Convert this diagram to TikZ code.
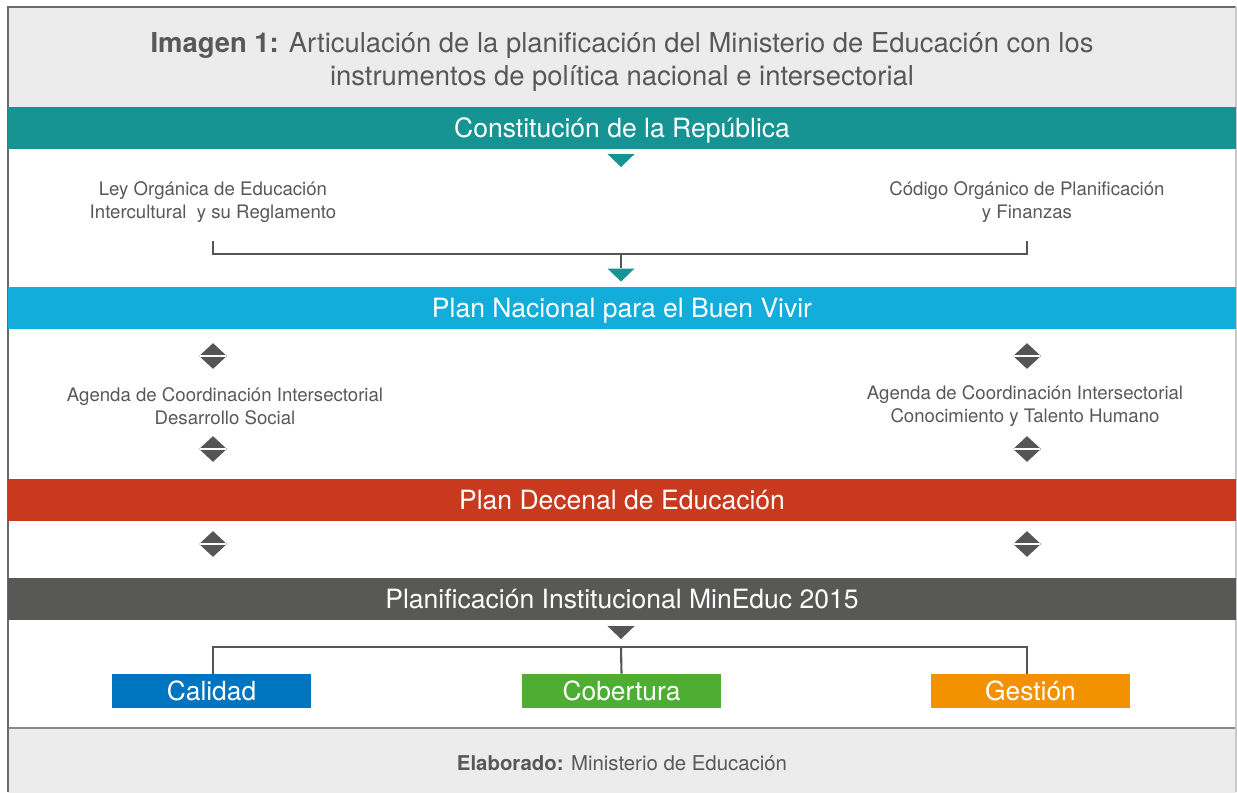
\documentclass[tikz,border=0pt]{standalone}
\usepackage{fontspec}
\setmainfont{TeX Gyre Heros}
\usetikzlibrary{positioning, shapes.geometric, calc}

\begin{document}
\begin{tikzpicture}[
    x=0.02cm, y=-0.02cm,
    band/.style={rectangle, minimum width=24.56cm, minimum height=0.84cm,
        inner sep=0pt, text=white, text height=10.9pt, text depth=0pt,
        font=\fontsize{15.1}{18}\selectfont},
    goalbox/.style={rectangle, minimum width=3.98cm, minimum height=0.68cm,
        inner sep=0pt, text=white, text height=10.8pt, text depth=0pt,
        font=\fontsize{15}{18}\selectfont},
    smalltext/.style={font=\fontsize{10.6}{13.2}\selectfont, text=bodytext, align=center},
    updown/.style={diamond, fill=markgray, minimum width=0.56cm, minimum height=0.52cm,
        inner sep=0pt,
        path picture={\draw[white, line width=1.1pt]
            (path picture bounding box.west) -- (path picture bounding box.east);}},
    downtri/.style={isosceles triangle, isosceles triangle stretches,
        shape border rotate=-90, inner sep=0pt,
        minimum width=0.54cm, minimum height=0.26cm},
    conn/.style={draw=linegray, line width=1.4pt},
]

% ── Colors ──
\definecolor{constfill}{HTML}{169494}
\definecolor{nacfill}{HTML}{13ADDB}
\definecolor{decfill}{HTML}{C9391D}
\definecolor{instfill}{HTML}{585857}
\definecolor{calfill}{HTML}{0075BF}
\definecolor{cobfill}{HTML}{4DAE33}
\definecolor{gesfill}{HTML}{F39200}
\definecolor{panelfill}{HTML}{ECECEC}
\definecolor{bodytext}{HTML}{585858}
\definecolor{markgray}{HTML}{555555}
\definecolor{linegray}{HTML}{555555}
\definecolor{framedark}{HTML}{6A6A6A}
\definecolor{framelight}{HTML}{C8C8C8}

\useasboundingbox (0,0) rectangle (1237,792);

% ══════════════════════════════════════════════
% Header and footer panels
% ══════════════════════════════════════════════
\node[rectangle, fill=panelfill, anchor=north west, inner sep=0pt,
    minimum width=24.56cm, minimum height=2cm] (header) at (8,7) {};
\node[font=\fontsize{15.6}{18.6}\selectfont, text=bodytext, align=center]
    (title) at (622,62) {\textbf{Imagen 1:} Articulación de la planificación del Ministerio de Educación con los\\
    instrumentos de política nacional e intersectorial};

\node[rectangle, fill=panelfill, anchor=north west, inner sep=0pt,
    minimum width=24.56cm, minimum height=1.3cm] (footer) at (8,728) {};
\draw[framedark!80, line width=0.8pt] (footer.north west) -- (footer.north east);
\node[font=\fontsize{11.6}{14}\selectfont, text=bodytext] (source) at (622,763)
    {\textbf{Elaborado:} Ministerio de Educación};

% frame
\draw[framedark, line width=0.9pt] (8,792) -- (8,7) -- (1236,7);
\draw[framelight, line width=0.9pt] (1236,7) -- (1236,792);

% ══════════════════════════════════════════════
% Bands
% ══════════════════════════════════════════════
\node[band, fill=constfill] (constitucion) at (622,128) {Constitución de la República};
\node[band, fill=nacfill] (plannacional) at (622,307.5) {Plan Nacional para el Buen Vivir};
\node[band, fill=decfill] (plandecenal) at (622,499.5) {Plan Decenal de Educación};
\node[band, fill=instfill] (planinst) at (622,599) {Planificación Institucional MinEduc 2015};

% ══════════════════════════════════════════════
% Laws (between Constitution and Plan Nacional)
% ══════════════════════════════════════════════
\node[downtri, fill=constfill] (tri1) at (621,159.5) {};
\node[smalltext] (ley) at (213,202) {Ley Orgánica de Educación\\Intercultural\ \ y su Reglamento};
\node[smalltext] (codigo) at (1027,202) {Código Orgánico de Planificación\\y Finanzas};

\coordinate (leyend) at (213,241);
\coordinate (codend) at (1027,241);
\coordinate (join) at (621,254);
\node[downtri, fill=constfill] (tri2) at (621,274) {};
\draw[conn] (leyend) |- (join) -| (codend);
\draw[conn] (join) -- (tri2.north);

% ══════════════════════════════════════════════
% Agendas and two-way markers
% ══════════════════════════════════════════════
\foreach \y/\n in {356/a, 449/b, 544/c} {
    \node[updown] (left\n) at (213,\y) {};
    \node[updown] (right\n) at (1027,\y) {};
}
\node[smalltext] (agendasocial) at (225,406) {Agenda de Coordinación Intersectorial\\Desarrollo Social};
\node[smalltext] (agendatalento) at (1025,406) {Agenda de Coordinación Intersectorial\\Conocimiento y Talento Humano};

% ══════════════════════════════════════════════
% Institutional goals
% ══════════════════════════════════════════════
\node[downtri, fill=markgray] (tri3) at (621,631.5) {};
\node[goalbox, fill=calfill] (calidad) at (211.5,691) {Calidad};
\node[goalbox, fill=cobfill] (cobertura) at (621.5,691) {Cobertura};
\node[goalbox, fill=gesfill] (gestion) at (1030.5,691) {Gestión};

\coordinate (split) at (621,647);
\draw[conn, line width=1.2pt] ([xshift=1pt]calidad.north) |- (split) -| ([xshift=-2pt]gestion.north);
\draw[conn, line width=1.2pt] (split) -- (cobertura.north);

\end{tikzpicture}
\end{document}
